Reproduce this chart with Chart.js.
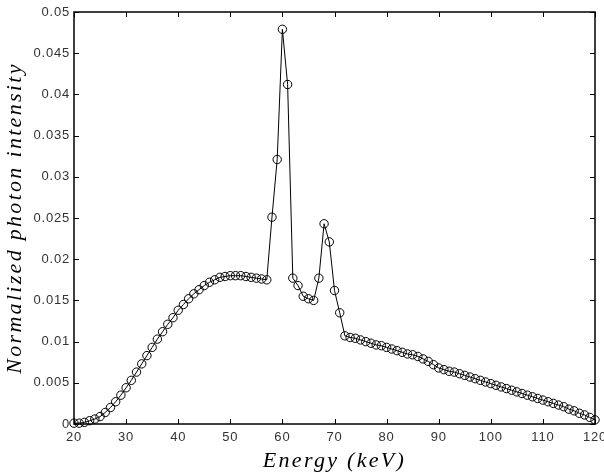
<!DOCTYPE html>
<html><head><meta charset="utf-8">
<script src="https://cdn.jsdelivr.net/npm/chart.js@4.4.1/dist/chart.umd.min.js"></script>
<style>html,body{margin:0;padding:0;background:#fff}#wrap{width:604px;height:474px}</style>
</head><body><div id="wrap"><canvas id="c" width="604" height="474"></canvas></div>
<script>
const energies = [20,21,22,23,24,25,26,27,28,29,30,31,32,33,34,35,36,37,38,39,40,41,42,43,44,45,46,47,48,49,50,51,52,53,54,55,56,57,58,59,60,61,62,63,64,65,66,67,68,69,70,71,72,73,74,75,76,77,78,79,80,81,82,83,84,85,86,87,88,89,90,91,92,93,94,95,96,97,98,99,100,101,102,103,104,105,106,107,108,109,110,111,112,113,114,115,116,117,118,119,120];
const intensities = [
 0.0001,0.0001,0.0002,0.0004,0.0006,0.0009,0.0014,0.0020,0.0027,0.0035,
 0.0044,0.0053,0.0063,0.0073,0.0083,0.0093,0.0103,0.0112,0.0121,0.0129,
 0.0138,0.0145,0.0152,0.0158,0.0163,0.0168,0.0172,0.0175,0.0178,0.0179,
 0.0180,0.0180,0.0180,0.0179,0.0178,0.0177,0.0176,0.0175,0.0251,0.0321,
 0.0479,0.0412,0.0177,0.0168,0.0155,0.0152,0.0150,0.0177,0.0243,0.0221,
 0.0162,0.0135,0.0107,0.0105,0.0104,0.0102,0.0100,0.0098,0.0096,0.0095,
 0.0093,0.0091,0.0089,0.0087,0.0085,0.0084,0.0082,0.0079,0.0076,0.0072,
 0.0068,0.0066,0.0064,0.0063,0.0061,0.0059,0.0057,0.0055,0.0053,0.0051,
 0.0049,0.0047,0.0045,0.0043,0.0041,0.0039,0.0037,0.0035,0.0033,0.0031,
 0.0029,0.0027,0.0025,0.0023,0.0021,0.0018,0.0016,0.0013,0.0011,0.0008,
 0.0005];
const xTickValues = [20,30,40,50,60,70,80,90,100,110,120];
const yTickValues = [0,0.005,0.01,0.015,0.02,0.025,0.03,0.035,0.04,0.045,0.05];
const yTickLabels = ['0','0.005','0.01','0.015','0.02','0.025','0.03','0.035','0.04','0.045','0.05'];
const xTitle = 'Energy (keV)';
const yTitle = 'Normalized photon intensity';

const points = energies.map((e, i) => ({x: e, y: intensities[i]}));

const framePlugin = {
  id: 'frame',
  beforeDraw(chart) { chart.ctx.letterSpacing = '2.3px'; },
  beforeDatasetsDraw(chart) { chart.ctx.letterSpacing = '0px'; },
  afterDatasetsDraw(chart) { chart.ctx.letterSpacing = '0.8px'; },
  afterDraw(chart) {
    const {ctx, chartArea: a, scales} = chart;
    const xs = scales.x, ys = scales.y;
    ctx.letterSpacing = '0px';
    ctx.save();
    ctx.strokeStyle = '#000';
    ctx.lineWidth = 1;
    const L = 5;
    ctx.beginPath();
    xTickValues.forEach(v => {
      const px = Math.round(xs.getPixelForValue(v)) + 0.5;
      ctx.moveTo(px, a.bottom); ctx.lineTo(px, a.bottom - L);
      ctx.moveTo(px, a.top); ctx.lineTo(px, a.top + L);
    });
    yTickValues.forEach(v => {
      const py = Math.round(ys.getPixelForValue(v)) + 0.5;
      ctx.moveTo(a.left, py); ctx.lineTo(a.left + L, py);
      ctx.moveTo(a.right, py); ctx.lineTo(a.right - L, py);
    });
    ctx.stroke();
    ctx.lineWidth = 1.5;
    ctx.strokeRect(a.left, a.top, a.right - a.left, a.bottom - a.top);
    ctx.restore();
  }
};

new Chart(document.getElementById('c'), {
  type: 'line',
  data: {
    datasets: [{
      data: points,
      borderColor: '#000',
      borderWidth: 1,
      pointRadius: 4.2,
      pointBorderWidth: 1,
      pointBorderColor: '#000',
      pointBackgroundColor: 'rgba(0,0,0,0)',
      tension: 0,
      fill: false,
      clip: false
    }]
  },
  options: {
    responsive: false,
    animation: false,
    devicePixelRatio: 1,
    layout: {padding: {left: 0, top: 12, right: 9, bottom: 0}},
    plugins: {legend: {display: false}, tooltip: {enabled: false}},
    scales: {
      x: {
        type: 'linear', min: 20, max: 120,
        afterBuildTicks: s => { s.ticks = xTickValues.map(v => ({value: v})); },
        afterFit: s => { s.height = 50; s.paddingLeft = 0; s.paddingRight = 0; },
        grid: {display: false, drawTicks: false},
        border: {display: false},
        ticks: {z: 1, padding: 6, color: '#333', maxRotation: 0, autoSkip: false,
          font: {family: 'Liberation Sans, Arial, sans-serif', size: 13, lineHeight: 1.2}},
        title: {display: true, text: xTitle, color: '#000', padding: {top: 0, bottom: 0},
          font: {family: 'Liberation Serif, Times New Roman, serif', style: 'italic', size: 22, lineHeight: 1.2}}
      },
      y: {
        type: 'linear', min: 0, max: 0.05,
        afterBuildTicks: s => { s.ticks = yTickValues.map(v => ({value: v})); },
        afterFit: s => { s.width = 74; s.paddingTop = 0; s.paddingBottom = 0; },
        grid: {display: false, drawTicks: false},
        border: {display: false},
        ticks: {z: 1, padding: 4, color: '#333', autoSkip: false,
          callback: (v, i) => yTickLabels[i],
          font: {family: 'Liberation Sans, Arial, sans-serif', size: 13, lineHeight: 1.2}},
        title: {display: true, text: yTitle, color: '#000', padding: {top: 2, bottom: 0},
          font: {family: 'Liberation Serif, Times New Roman, serif', style: 'italic', size: 22, lineHeight: 1.2}}
      }
    }
  },
  plugins: [framePlugin]
});
</script></body></html>
